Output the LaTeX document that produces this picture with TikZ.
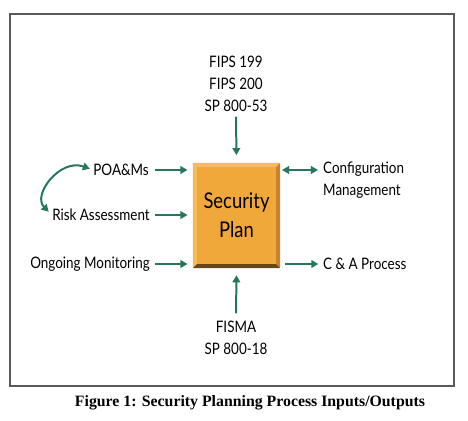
\documentclass[tikz,border=0pt]{standalone}
\usepackage{fontspec}
\setmainfont{Liberation Serif}
\newfontfamily\labelfont[FakeStretch=0.85]{Lato}
\usetikzlibrary{arrows.meta,positioning}

\definecolor{arrowgreen}{RGB}{38,118,92}
\definecolor{planorange}{RGB}{241,168,58}
\definecolor{planlight}{RGB}{247,186,92}
\definecolor{planmid}{RGB}{200,132,40}
\definecolor{plandark}{RGB}{105,70,24}
\definecolor{framegray}{RGB}{90,90,90}

\tikzset{
	lbl/.style={font=\labelfont\fontsize{13.5}{18.7}\selectfont, inner sep=0pt},
	flow/.style={draw=arrowgreen, line width=1.7pt, -{Triangle[length=6pt,width=6.5pt]}},
	planbox/.style={fill=planorange, minimum width=2.61cm, minimum height=3.15cm, inner sep=0pt,
		font=\labelfont\fontsize{18.5}{24.6}\selectfont, align=center},
}

\begin{document}
\begin{tikzpicture}[x=0.03cm,y=-0.03cm]
	\useasboundingbox (0,0) rectangle (468,421);
	\draw[framegray, line width=1.3pt] (10,14) rectangle (454,386);

	% the plan box with its bevel
	\node[planbox] (plan) at (236.5,215.5) {};
	\fill[planlight] (plan.north west) -- (plan.north east) -- ([shift={(-4,4)}]plan.north east) -- ([shift={(4,4)}]plan.north west) -- cycle;
	\fill[planlight] (plan.north west) -- ([shift={(4,4)}]plan.north west) -- ([shift={(4,-4)}]plan.south west) -- (plan.south west) -- cycle;
	\fill[planmid] (plan.north east) -- (plan.south east) -- ([shift={(-4,-4)}]plan.south east) -- ([shift={(-4,4)}]plan.north east) -- cycle;
	\fill[plandark] (plan.south west) -- (plan.south east) -- ([shift={(-4,-4)}]plan.south east) -- ([shift={(4,-4)}]plan.south west) -- cycle;
	\node[planbox, fill=none] at (plan.center) {Security\\Plan};

	% inputs
	\node[lbl, align=center] (fips) at (236,84) {FIPS 199\\FIPS 200\\SP 800-53};
	\node[lbl, anchor=east] (poam) at (149,170) {POA\&Ms};
	\node[lbl, anchor=east] (risk) at (150,215) {Risk Assessment};
	\node[lbl, anchor=east] (ongoing) at (150,264) {Ongoing Monitoring};
	\node[lbl, align=center] (fisma) at (236,338) {FISMA\\SP 800-18};

	% outputs
	\node[lbl, anchor=west, align=left] (config) at (323,180.5) {Configuration\\Management};
	\coordinate (cfgend) at (318,170);
	\node[lbl, anchor=west] (ca) at (323,264) {C \& A Process};

	\draw[flow, shorten <=4pt, shorten >=6.5pt] (fips.south) -- (plan.north);
	\draw[flow, shorten <=6.5pt, shorten >=6pt] (fisma.north) -- (plan.south);
	\draw[flow, shorten <=5pt, shorten >=4.5pt] (poam.east) -- (poam.east -| plan.west);
	\draw[flow, shorten <=4.5pt, shorten >=4.5pt] (risk.east) -- (risk.east -| plan.west);
	\draw[flow, shorten <=4.5pt, shorten >=4.5pt] (ongoing.east) -- (ongoing.east -| plan.west);
	\draw[flow, {Triangle[length=6pt,width=6.5pt]}-{Triangle[length=6pt,width=6.5pt]}, shorten <=1.5pt] (plan.east |- cfgend) -- (cfgend);
	\draw[flow, shorten <=4pt, shorten >=4pt] (plan.east |- ca.west) -- (ca.west);
	\draw[flow, {Triangle[length=6pt,width=6.5pt]}-{Triangle[length=6pt,width=6.5pt]}, shorten <=3pt, shorten >=4pt]
		(poam.west) .. controls (60,158) and (32,195) .. (risk.west);

	\node[font=\bfseries\fontsize{13.5}{15}\selectfont] (caption) at (250,403) {Figure 1: Security Planning Process Inputs/Outputs};
\end{tikzpicture}
\end{document}
